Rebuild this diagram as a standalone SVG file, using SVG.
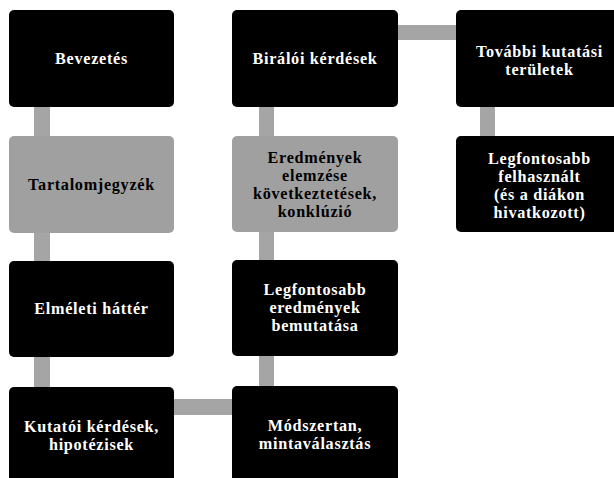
<svg xmlns="http://www.w3.org/2000/svg" width="614" height="478" viewBox="0 0 614 478">
<style>
.n{fill:#000}
.g{fill:#a0a0a0}
.c{fill:#a5a5a5}
text{font-family:"Liberation Serif","DejaVu Serif",serif;font-weight:bold;font-size:16.2px;letter-spacing:0.7px;text-anchor:middle}
.w{fill:#fff}
.b{fill:#000}
</style>
<rect width="614" height="478" fill="#fff"/>
<g id="connectors">
<rect class="c" x="34" y="105" width="16" height="33"/>
<rect class="c" x="34" y="231" width="16" height="32"/>
<rect class="c" x="34" y="355" width="16" height="34"/>
<rect class="c" x="172" y="399" width="62" height="16"/>
<rect class="c" x="259" y="354" width="15" height="34"/>
<rect class="c" x="259" y="230" width="15" height="32"/>
<rect class="c" x="259" y="105" width="15" height="33"/>
<rect class="c" x="396" y="25" width="62" height="15"/>
<rect class="c" x="480" y="105" width="15" height="33"/>
</g>
<g id="n1"><rect class="n" x="9" y="10" width="165" height="97" rx="5"/><text class="w" x="91.5" y="64">Bevezetés</text></g>
<g id="n2"><rect class="g" x="9" y="136" width="165" height="97" rx="5"/><text class="b" x="91.5" y="190">Tartalomjegyzék</text></g>
<g id="n3"><rect class="n" x="9" y="261" width="165" height="96" rx="5"/><text class="w" x="91.5" y="314">Elméleti háttér</text></g>
<g id="n4"><rect class="n" x="9" y="387" width="165" height="97" rx="5"/><text class="w" x="91.5" y="432">Kutatói kérdések,</text><text class="w" x="91.5" y="450">hipotézisek</text></g>
<g id="n5"><rect class="n" x="232" y="386" width="166" height="97" rx="5"/><text class="w" x="315" y="431">Módszertan,</text><text class="w" x="315" y="449">mintaválasztás</text></g>
<g id="n6"><rect class="n" x="232" y="260" width="166" height="96" rx="5"/><text class="w" x="315" y="295">Legfontosabb</text><text class="w" x="315" y="313">eredmények</text><text class="w" x="315" y="331">bemutatása</text></g>
<g id="n7"><rect class="g" x="232" y="136" width="166" height="96" rx="5"/><text class="b" x="315" y="163">Eredmények</text><text class="b" x="315" y="181">elemzése</text><text class="b" x="315" y="199">következtetések,</text><text class="b" x="315" y="217">konklúzió</text></g>
<g id="n8"><rect class="n" x="232" y="10" width="166" height="97" rx="5"/><text class="w" x="315" y="64">Birálói kérdések</text></g>
<g id="n9"><rect class="n" x="456" y="10" width="166" height="97" rx="5"/><text class="w" x="539.5" y="57">További kutatási</text><text class="w" x="539.5" y="75">területek</text></g>
<g id="n10"><rect class="n" x="456" y="136" width="166" height="96" rx="5"/><text class="w" x="539.5" y="164">Legfontosabb</text><text class="w" x="539.5" y="182">felhasznált</text><text class="w" x="539.5" y="200">(és a diákon</text><text class="w" x="539.5" y="218">hivatkozott)</text></g>
</svg>
